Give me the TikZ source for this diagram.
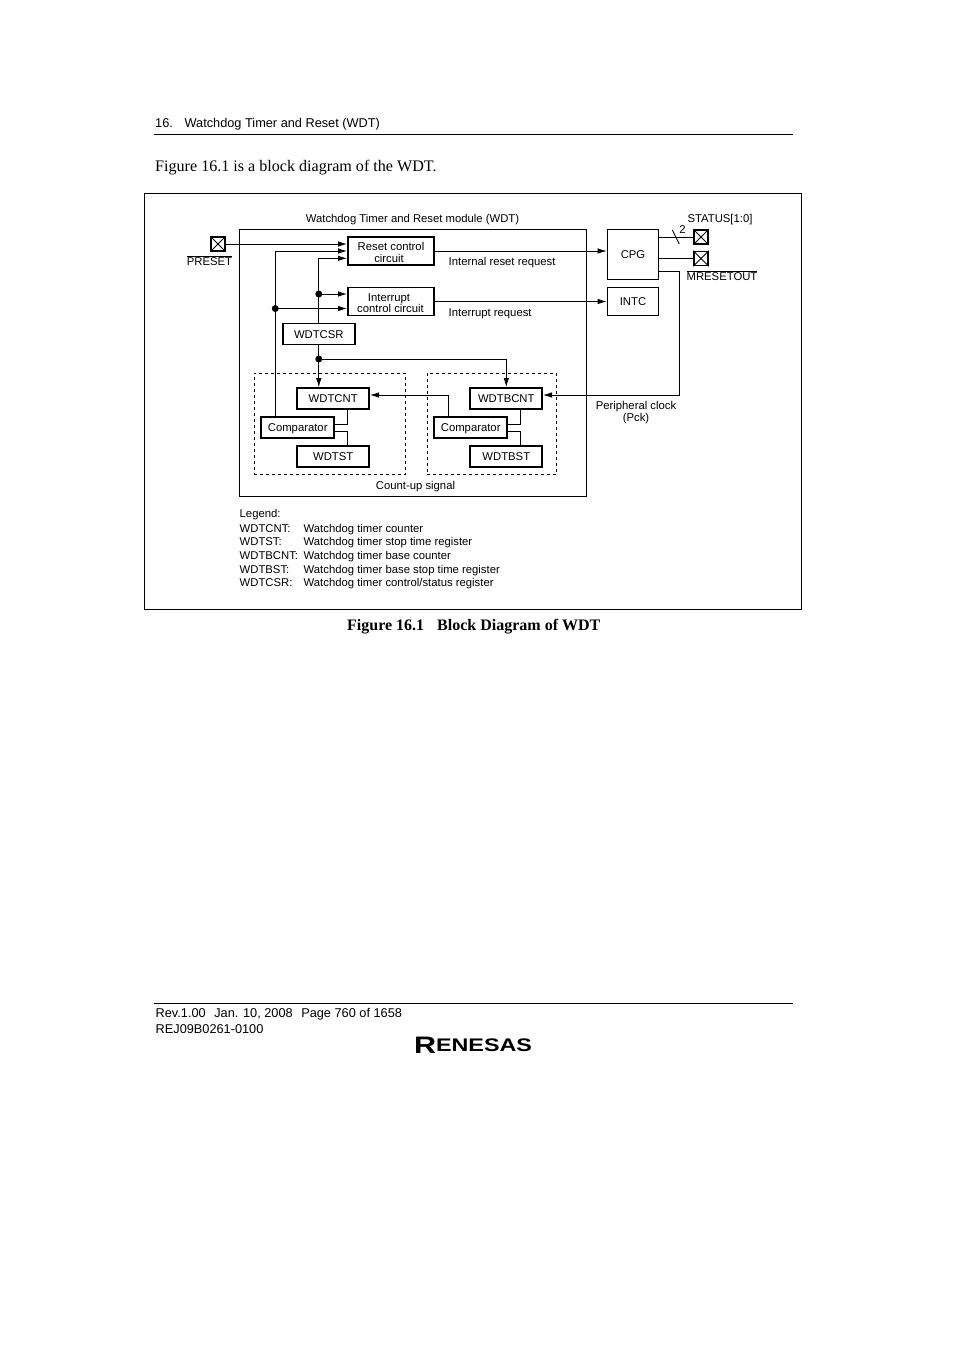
\documentclass[tikz,border=0pt]{standalone}
\usepackage{fontspec}
\usepackage{amsmath}
\usepackage{graphicx}
\setmainfont{Liberation Sans}
\newfontfamily\serifbody{Liberation Serif}
\usetikzlibrary{arrows.meta}
\tikzset{
  lbl/.style={inner sep=0pt,yshift=-1.15pt,text height=8.5pt,text depth=2.5pt,font=\fontsize{11.3}{11.3}\selectfont,align=center},
  page/.style={inner sep=0pt,yshift=-1.5pt,font=\fontsize{12.75}{12.75}\selectfont,anchor=west},
  body/.style={inner sep=0pt,yshift=-1.5pt,font=\serifbody\fontsize{16.1}{16.1}\selectfont,anchor=west},
  block/.style={draw,line width=1.7pt,inner sep=0pt,text height=8.5pt,text depth=0.5pt,font=\fontsize{11.3}{11.3}\selectfont,align=center,
    minimum width=72pt,minimum height=21pt},
  ctrl/.style={block,text height=22pt,text depth=0pt,minimum width=86pt,minimum height=28pt},
  pin/.style={draw,line width=1.7pt,inner sep=0pt,minimum width=14pt,minimum height=14pt},
  dot/.style={circle,fill,inner sep=0pt,outer sep=0pt,minimum size=7pt},
  sig/.style={line width=0.8pt},
  arr/.style={line width=0.8pt,-{Latex[length=9pt,width=5.5pt]}},
  group/.style={draw,dashed,line width=0.8pt,inner sep=0pt},
}
\begin{document}
\begin{tikzpicture}[x=1pt,y=1pt,yscale=-1]
  \useasboundingbox (0,0) rectangle (954,1350);
  % page text
  \node[page] (chapter) at (155,122.5) {16.\hspace{7pt} Watchdog Timer and Reset (WDT)};
  \coordinate (headl) at (154,134);
  \coordinate (headr) at (793,134);
  \draw[sig] (headl) -- (headr);
  \node[body] (intro) at (155,166.5) {Figure 16.1 is a block diagram of the WDT.};
  \node[draw,line width=0.8pt,inner sep=0pt,minimum width=657pt,minimum height=416pt] (frame) at (473,401.5) {};
  \node[body,font=\serifbody\bfseries\fontsize{16}{16}\selectfont] (caption) at (347,625.5) {Figure 16.1\hspace{9pt} Block Diagram of WDT};
  \coordinate (footl) at (154,1003.5);
  \coordinate (footr) at (793,1003.5);
  \draw[sig] (footl) -- (footr);
  \node[page] (rev) at (155.5,1012.5) {Rev.1.00\hspace{5pt} Jan. 10, 2008\hspace{5pt} Page 760 of 1658};
  \node[page] (rej) at (155.5,1027.5) {REJ09B0261-0100};
  \node[inner sep=0pt] (logo) at (473,1045) {\resizebox{118pt}{15pt}{\bfseries\fontsize{13}{13}\selectfont\raisebox{-1pt}{\fontsize{17}{17}\selectfont R}ENESAS}};
  % module
  \node[draw,line width=0.8pt,inner sep=0pt,minimum width=346.5pt,minimum height=267pt] (wdt) at (412.7,362.8) {};
  \draw[line width=1.6pt] (wdt.north east) -- (wdt.south east);
  \node[lbl] (wdttitle) at (412.5,218) {Watchdog Timer and Reset module (WDT)};
  \node[group,minimum width=151.5pt,minimum height=101pt] (groupa) at (329.8,423.8) {};
  \node[group,minimum width=129.5pt,minimum height=101pt] (groupb) at (492,423.8) {};
  % blocks
  \node[ctrl] (resetctl) at (391,251) {Reset control\\circuit\hspace*{4pt}};
  \node[ctrl] (intctl) at (391,301.5) {Interrupt\hspace*{4pt}\\control circuit\hspace*{1pt}};
  \node[block] (wdtcsr) at (318.8,334) {WDTCSR};
  \node[block] (wdtcnt) at (333.2,398.5) {WDTCNT};
  \node[block,minimum width=73pt] (compa) at (297.7,427.3) {Comparator};
  \node[block] (wdtst) at (333.2,456.5) {WDTST};
  \node[block] (wdtbcnt) at (506.3,398.5) {WDTBCNT};
  \node[block,minimum width=73pt] (compb) at (470.7,427.3) {Comparator};
  \node[block] (wdtbst) at (506.3,456.5) {WDTBST};
  \node[block,minimum width=51pt,minimum height=50pt] (cpg) at (633,254.5) {CPG};
  \node[block,minimum width=51pt,minimum height=28pt] (intc) at (633,301.5) {INTC};
  \node[pin] (preset) at (218,244) {};
  \draw[sig] (preset.north west) -- (preset.south east) (preset.north east) -- (preset.south west);
  \node[pin] (status) at (701,237) {};
  \draw[sig] (status.north west) -- (status.south east) (status.north east) -- (status.south west);
  \node[pin] (mreset) at (701,258.5) {};
  \draw[sig] (mreset.north west) -- (mreset.south east) (mreset.north east) -- (mreset.south west);
  % junctions
  \node[dot] (dotint) at (318.8,294) {};
  \node[dot] (dotcmp) at (275.3,308.5) {};
  \node[dot] (dotcsr) at (318.8,359) {};
  % connection points
  \coordinate (rsta) at (347,244);
  \coordinate (rstb) at (347,251);
  \coordinate (rstc) at (347,258.3);
  \coordinate (inta) at (347,294);
  \coordinate (intb) at (347,308.5);
  \coordinate (cmpup) at (275.3,416);
  \coordinate (cmpbup) at (448.3,416);
  \coordinate (bcntin) at (506.3,387);
  \coordinate (cntback) at (370,395);
  \coordinate (bcntback) at (543,395);
  \coordinate (clkout) at (659,271.7);
  \coordinate (clkcorner) at (679.3,271.7);
  \coordinate (cnta) at (347.5,409);
  \coordinate (cmpa) at (334.3,424);
  \coordinate (cmpb) at (334.3,431);
  \coordinate (sta) at (347.5,446);
  \coordinate (bcnta) at (520.4,409);
  \coordinate (cmpc) at (507.3,424);
  \coordinate (cmpd) at (507.3,431);
  \coordinate (bsta) at (520.4,446);
  \coordinate (stsout) at (659,237);
  \coordinate (mrsout) at (659,258.5);
  \coordinate (ticka) at (672.3,230);
  \coordinate (tickb) at (679.3,244);
  % connectors
  \draw[arr] (preset.east) -- (preset.east -| rsta);
  \draw[arr] (cmpup) -- (rstb -| cmpup) -- (rstb);
  \draw[arr] (wdtcsr.north) -- (rstc -| wdtcsr.north) -- (rstc);
  \draw[arr] (dotint.center) -- (inta);
  \draw[arr] (dotcmp.center) -- (intb);
  \draw[sig] (wdtcsr.south) -- (dotcsr.center);
  \draw[arr] (dotcsr.center) -- (wdtcnt.north -| dotcsr.center);
  \draw[arr] (dotcsr.center) -- (dotcsr.center -| bcntin) -- (bcntin);
  \draw[arr] (cmpbup) -- (cntback -| cmpbup) -- (cntback);
  \draw[arr] (clkout) -- (clkcorner) -- (bcntback -| clkcorner) -- (bcntback);
  \draw[sig] (cnta) -- (cmpa -| cnta) -- (cmpa);
  \draw[sig] (cmpb) -- (cmpb -| sta) -- (sta);
  \draw[sig] (bcnta) -- (cmpc -| bcnta) -- (cmpc);
  \draw[sig] (cmpd) -- (cmpd -| bsta) -- (bsta);
  \draw[arr] (resetctl.east) -- (resetctl.east -| cpg.west);
  \draw[arr] (intctl.east) -- (intc.west);
  \draw[sig] (stsout) -- (status.west);
  \draw[sig] (mrsout) -- (mreset.west);
  \draw[sig] (ticka) -- (tickb);
  % labels
  \node[lbl] (presetlbl) at (209.5,261) {$\overline{\text{PRESET}}$};
  \node[lbl] (statuslbl) at (720,218) {STATUS[1:0]};
  \node[lbl] (twolbl) at (682.5,229) {2};
  \node[lbl] (mresetlbl) at (722,276) {$\overline{\text{MRESETOUT}}$};
  \node[lbl,anchor=west] (rstreq) at (448.5,261.5) {Internal reset request};
  \node[lbl,anchor=west] (intreq) at (448.5,312.5) {Interrupt request};
  \node[lbl,text height=22pt,text depth=0pt] (pck) at (636,409) {Peripheral clock\\(Pck)};
  \node[lbl] (countup) at (415.5,485.5) {Count-up signal};
  \node[lbl,anchor=west] (legend) at (239.5,513.5) {Legend:};
  \node[lbl,anchor=west] (ka) at (239.5,528) {WDTCNT:};
  \node[lbl,anchor=west] (va) at (303.5,528) {Watchdog timer counter};
  \node[lbl,anchor=west] (kb) at (239.5,541.5) {WDTST:};
  \node[lbl,anchor=west] (vb) at (303.5,541.5) {Watchdog timer stop time register};
  \node[lbl,anchor=west] (kc) at (239.5,555.5) {WDTBCNT:};
  \node[lbl,anchor=west] (vc) at (303.5,555.5) {Watchdog timer base counter};
  \node[lbl,anchor=west] (kd) at (239.5,569) {WDTBST:};
  \node[lbl,anchor=west] (vd) at (303.5,569) {Watchdog timer base stop time register};
  \node[lbl,anchor=west] (ke) at (239.5,582.5) {WDTCSR:};
  \node[lbl,anchor=west] (ve) at (303.5,582.5) {Watchdog timer control/status register};
\end{tikzpicture}
\end{document}
